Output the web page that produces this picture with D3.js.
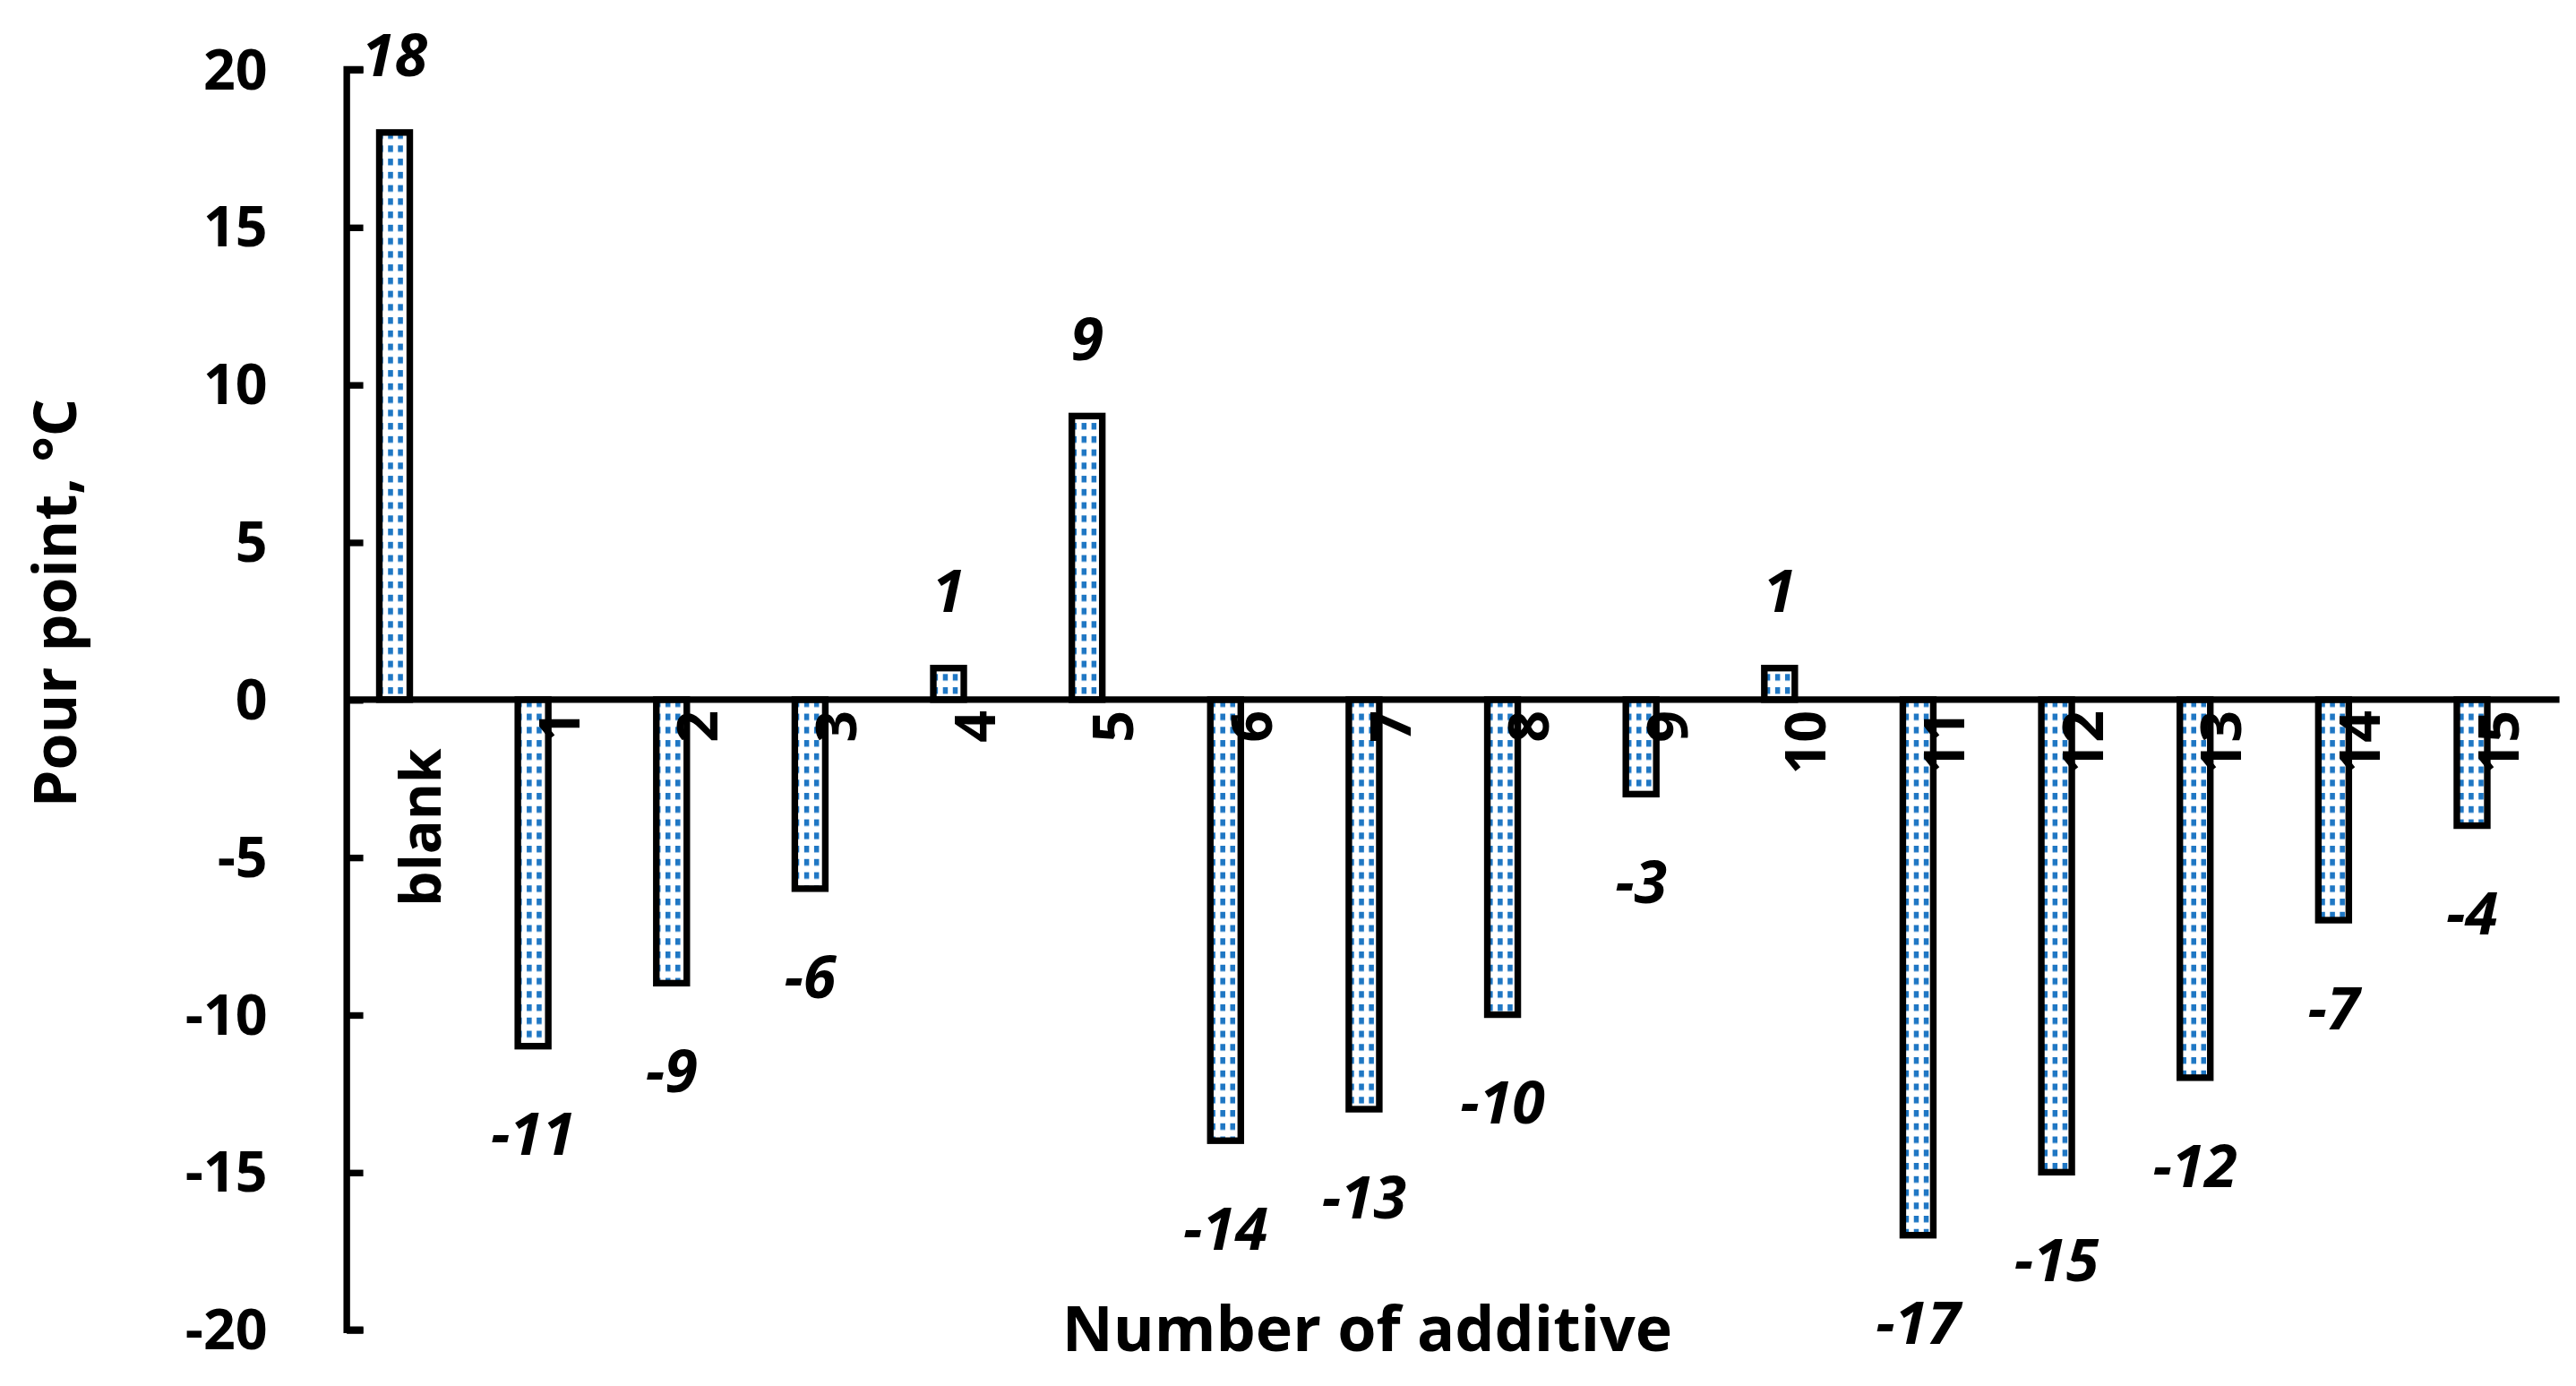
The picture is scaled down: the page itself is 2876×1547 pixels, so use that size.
<!DOCTYPE html>
<html><head><meta charset="utf-8">
<script src="https://cdn.jsdelivr.net/npm/d3@7"></script>
<style>body{margin:0;background:#fff}</style>
</head><body>
<svg id="chart"></svg>
<script>
var categories = ["blank","1","2","3","4","5","6","7","8","9","10","11","12","13","14","15"]
var values = [18,-11,-9,-6,1,9,-14,-13,-10,-3,1,-17,-15,-12,-7,-4]
var yTicks = [20,15,10,5,0,-5,-10,-15,-20]

var font = "'Open Sans', 'Liberation Sans', sans-serif"
var svg = d3.select("#chart")
    .attr("width", 2876).attr("height", 1547)
    .attr("viewBox", "0 0 1560 839")

// dotted blue fill
var pat = svg.append("defs").append("pattern")
    .attr("id", "dots").attr("patternUnits", "userSpaceOnUse")
    .attr("width", 6).attr("height", 8)
pat.append("rect").attr("width", 6).attr("height", 8).attr("fill", "#fff")
pat.append("rect").attr("x", 1).attr("width", 3).attr("height", 4).attr("fill", "#1f77c4")

var y = d3.scaleLinear().domain([-20, 20]).range([805, 42])
var x = d3.scaleBand().domain(categories).range([197, 1539]).paddingInner(0.78).paddingOuter(0.39)

// y axis
var yAxis = svg.append("g").attr("transform", "translate(210,0)")
    .call(d3.axisRight(y).tickValues(yTicks).tickSize(10).tickFormat(""))
yAxis.select(".domain").attr("stroke-width", 4).attr("d", "M10,42H0V805H10")
yAxis.selectAll(".tick line").attr("stroke-width", 4)
svg.selectAll(".ylab").data(yTicks).join("text")
    .attr("x", 162).attr("y", d => y(d) + 12)
    .attr("text-anchor", "end").attr("font-family", font).attr("font-weight", "bold")
    .attr("font-size", 34).text(d => d)

// bars
svg.selectAll(".bar").data(values).join("rect")
    .attr("x", (d, i) => x(categories[i]))
    .attr("width", x.bandwidth())
    .attr("y", d => y(Math.max(0, d)))
    .attr("height", d => Math.abs(y(d) - y(0)))
    .attr("fill", "url(#dots)").attr("stroke", "#000").attr("stroke-width", 4)

// zero line
svg.append("line").attr("x1", 210).attr("x2", 1550).attr("y1", y(0)).attr("y2", y(0))
    .attr("stroke", "#000").attr("stroke-width", 4)

// category labels
svg.selectAll(".cat").data(categories).join("text")
    .attr("transform", (d, i) => "translate(" + (x(d) + x.bandwidth() / 2 + 28) + "," + (i == 0 ? 453 : 430) + ") rotate(-90)")
    .attr("text-anchor", "end").attr("font-family", font).attr("font-weight", "bold")
    .attr("font-size", 34).text(d => d)

// value labels
svg.selectAll(".val").data(values).join("text")
    .attr("x", (d, i) => x(categories[i]) + x.bandwidth() / 2)
    .attr("y", d => d >= 0 ? y(d) - 34 : y(d) + 66)
    .attr("text-anchor", "middle").attr("font-family", font).attr("font-weight", "bold")
    .attr("font-style", "italic").attr("font-size", 36).text(d => d)

svg.append("text").attr("transform", "translate(46,365) rotate(-90)")
    .attr("text-anchor", "middle").attr("font-family", font).attr("font-weight", "bold")
    .attr("font-size", 36).text("Pour point, °C")
svg.append("text").attr("x", 828).attr("y", 818)
    .attr("text-anchor", "middle").attr("font-family", font).attr("font-weight", "bold")
    .attr("font-size", 38).text("Number of additive")
</script>
</body></html>
